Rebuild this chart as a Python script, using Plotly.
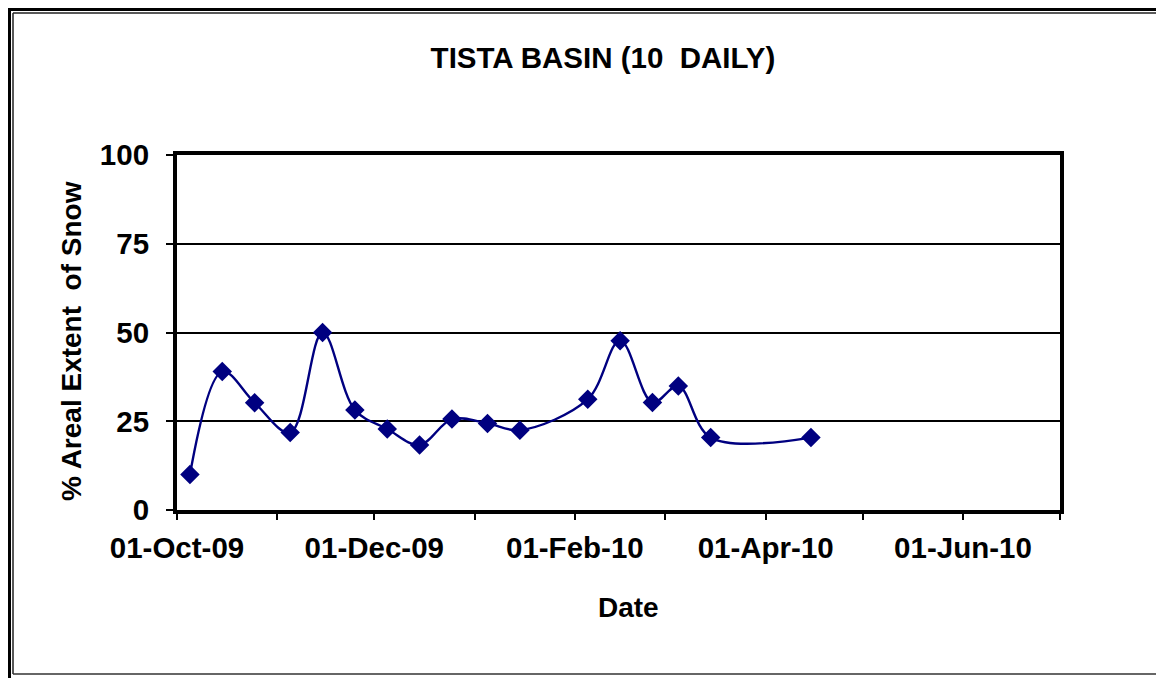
import plotly.graph_objects as go

# data
dates = ["2009-10-05", "2009-10-15", "2009-10-25", "2009-11-05", "2009-11-15",
         "2009-11-25", "2009-12-05", "2009-12-15", "2009-12-25", "2010-01-05",
         "2010-01-15", "2010-02-05", "2010-02-15", "2010-02-25", "2010-03-05",
         "2010-03-15", "2010-04-15"]
snow_pct = [10.0, 39.0, 30.2, 21.8, 50.0, 28.2, 22.8, 18.3, 25.6, 24.4,
            22.5, 31.2, 47.7, 30.3, 34.9, 20.4, 20.4]

month_ticks = ["2009-10-01", "2009-11-01", "2009-12-01", "2010-01-01", "2010-02-01",
               "2010-03-01", "2010-04-01", "2010-05-01", "2010-06-01", "2010-07-01"]
month_labels = ["01-Oct-09", "", "01-Dec-09", "", "01-Feb-10",
                "", "01-Apr-10", "", "01-Jun-10", ""]
y_ticks = [0, 25, 50, 75, 100]

# the html body adds an 8px margin, so the figure is drawn 8px smaller
# and every page coordinate below is shifted back by OFF
OFF = 8
W, H = 1164 - OFF, 678 - OFF
L, R, T, B = 177 - OFF, 1060 - OFF, 155 - OFF, 510 - OFF
FONT = dict(family="Liberation Sans, Arial", color="black", weight="bold")


def px_x(x):
    return (x - OFF - L) / (R - L)


def px_y(y):
    return (B - (y - OFF)) / (B - T)


NAVY = "#000080"

fig = go.Figure()
fig.add_trace(go.Scatter(
    x=dates, y=snow_pct, mode="lines+markers",
    line=dict(color=NAVY, width=2.4, shape="spline", smoothing=1.0),
    marker=dict(symbol="diamond", size=15, color=NAVY),
    showlegend=False, cliponaxis=False,
))

fig.update_layout(
    width=W, height=H,
    margin=dict(l=L, r=W - R, t=T, b=H - B),
    paper_bgcolor="white", plot_bgcolor="white",
    font=dict(**FONT, size=28),
    title=dict(text="TISTA BASIN (10  DAILY)", x=(603 - OFF) / W, xanchor="center",
               y=1 - (58 - OFF) / H, yanchor="middle", font=dict(**FONT, size=29.5)),
    xaxis=dict(
        type="date", range=["2009-10-01", "2010-07-01"],
        tickvals=month_ticks, ticktext=month_labels,
        showgrid=False, zeroline=False,
        showline=True, linecolor="black", linewidth=4, mirror=True,
        ticks="outside", ticklen=6, tickwidth=2, tickcolor="black",
        tickfont=dict(**FONT, size=29.5), ticklabelstandoff=3,
    ),
    yaxis=dict(
        range=[0, 100], tickvals=y_ticks,
        showgrid=True, gridcolor="black", gridwidth=2, zeroline=False,
        showline=True, linecolor="black", linewidth=4, mirror=True,
        ticks="outside", ticklen=7, tickwidth=2, tickcolor="black",
        tickfont=dict(**FONT, size=29.5), ticklabelstandoff=11,
    ),
    annotations=[
        dict(text="% Areal Extent  of Snow", xref="paper", yref="paper",
             x=px_x(71), y=px_y(341), textangle=-90, showarrow=False,
             xanchor="center", yanchor="middle", font=dict(**FONT, size=28)),
        dict(text="Date", xref="paper", yref="paper",
             x=px_x(628), y=px_y(607), showarrow=False,
             xanchor="center", yanchor="middle", font=dict(**FONT, size=28)),
    ],
)

# outer chart border (thick + thin on the top/left, thin on the bottom/right)
border = [
    (px_x(OFF), px_y(9.5), px_x(1164), px_y(9.5), 3, "black"),
    (px_x(9.5), px_y(OFF), px_x(9.5), px_y(678), 3, "black"),
    (px_x(13), px_y(13), px_x(1164), px_y(13), 1.5, "#222222"),
    (px_x(13), px_y(13), px_x(13), px_y(674), 1.5, "#222222"),
    (px_x(13), px_y(674), px_x(1164), px_y(674), 1.5, "#333333"),
    (px_x(1162.5), px_y(13), px_x(1162.5), px_y(674), 1.5, "#999999"),
]
for x0, y0, x1, y1, w, c in border:
    fig.add_shape(type="line", xref="paper", yref="paper",
                  x0=x0, y0=y0, x1=x1, y1=y1, line=dict(color=c, width=w))

fig.write_html("out.html")
